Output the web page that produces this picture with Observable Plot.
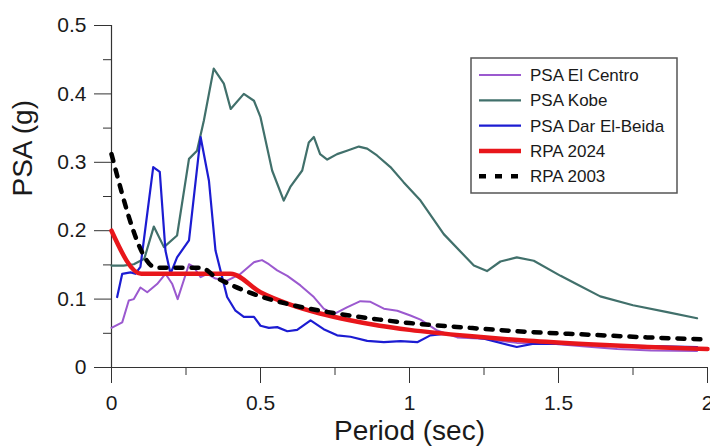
<!DOCTYPE html>
<html>
<head>
<meta charset="utf-8">
<script src="https://cdn.jsdelivr.net/npm/d3@7"></script>
<script src="https://cdn.jsdelivr.net/npm/@observablehq/plot@0.6"></script>
<style>
  html, body { margin: 0; padding: 0; background: #fff; }
  #chart { width: 710px; height: 448px; overflow: hidden; }
</style>
</head>
<body>
<div id="chart"></div>
<script>
// ---- Data ----
const elCentroT = [0, 0.036, 0.058, 0.075, 0.097, 0.12, 0.153, 0.181, 0.204, 0.222, 0.26, 0.276, 0.299, 0.321, 0.349, 0.388, 0.433, 0.478, 0.505, 0.528, 0.556, 0.59, 0.634, 0.679, 0.712, 0.746, 0.79, 0.835, 0.869, 0.914, 0.959, 1.003, 1.037, 1.093, 1.16, 1.25, 1.36, 1.473, 1.58, 1.697, 1.81, 1.965];
const elCentroV = [0.058, 0.066, 0.098, 0.100, 0.117, 0.110, 0.122, 0.137, 0.122, 0.100, 0.151, 0.147, 0.132, 0.137, 0.130, 0.127, 0.137, 0.154, 0.157, 0.151, 0.142, 0.134, 0.120, 0.103, 0.086, 0.078, 0.088, 0.097, 0.096, 0.086, 0.083, 0.076, 0.070, 0.054, 0.044, 0.042, 0.036, 0.035, 0.031, 0.027, 0.025, 0.024];

const kobeT = [0, 0.04, 0.075, 0.11, 0.142, 0.176, 0.22, 0.26, 0.287, 0.31, 0.343, 0.377, 0.40, 0.444, 0.478, 0.50, 0.539, 0.578, 0.60, 0.64, 0.662, 0.679, 0.70, 0.724, 0.757, 0.79, 0.83, 0.858, 0.891, 0.936, 0.98, 1.037, 1.115, 1.216, 1.26, 1.305, 1.36, 1.417, 1.507, 1.56, 1.64, 1.75, 1.865, 1.965];
const kobeV = [0.149, 0.149, 0.151, 0.159, 0.206, 0.176, 0.193, 0.305, 0.317, 0.361, 0.437, 0.415, 0.378, 0.400, 0.390, 0.366, 0.288, 0.244, 0.264, 0.288, 0.329, 0.337, 0.312, 0.304, 0.312, 0.317, 0.323, 0.320, 0.310, 0.293, 0.271, 0.244, 0.195, 0.149, 0.141, 0.155, 0.161, 0.156, 0.134, 0.122, 0.104, 0.091, 0.081, 0.072];

const darT = [0.019, 0.036, 0.064, 0.08, 0.097, 0.14, 0.162, 0.181, 0.198, 0.22, 0.26, 0.299, 0.327, 0.349, 0.388, 0.416, 0.444, 0.478, 0.50, 0.528, 0.556, 0.59, 0.623, 0.668, 0.712, 0.757, 0.802, 0.858, 0.914, 0.97, 1.026, 1.07, 1.115, 1.25, 1.36, 1.417, 1.55, 1.7, 1.85, 1.965];
const darV = [0.103, 0.137, 0.139, 0.137, 0.147, 0.293, 0.286, 0.171, 0.137, 0.161, 0.186, 0.337, 0.273, 0.171, 0.103, 0.083, 0.074, 0.074, 0.061, 0.058, 0.059, 0.053, 0.055, 0.069, 0.056, 0.047, 0.045, 0.039, 0.037, 0.0385, 0.037, 0.047, 0.049, 0.042, 0.030, 0.035, 0.034, 0.032, 0.031, 0.030];

const rpa2024T = [0, 0.1, 0.4, 0.5, 0.6, 0.7, 0.8, 0.9, 1.0, 1.2, 1.4, 1.6, 1.8, 2.0];
const rpa2024V = [0.200, 0.137, 0.137, 0.110, 0.092, 0.079, 0.069, 0.061, 0.055, 0.046, 0.039, 0.034, 0.030, 0.027];

const rpa2003T = [0, 0.15, 0.3, 0.35, 0.4, 0.5, 0.6, 0.7, 0.8, 0.9, 1.0, 1.2, 1.4, 1.6, 1.8, 2.0];
const rpa2003V = [0.312, 0.146, 0.146, 0.132, 0.121, 0.104, 0.092, 0.083, 0.076, 0.070, 0.065, 0.058, 0.052, 0.048, 0.044, 0.041];

const seriesNames = ["PSA El Centro", "PSA Kobe", "PSA Dar El-Beida", "RPA 2024", "RPA 2003"];
const seriesColors = ["#9b59cf", "#41706b", "#1c1cd2", "#e8161b", "#000000"];

const xMajor = [0, 0.5, 1, 1.5, 2];
const xMinor = [0.25, 0.75, 1.25, 1.75];
const yMajor = [0, 0.1, 0.2, 0.3, 0.4, 0.5];
const yMinor = [0.05, 0.15, 0.25, 0.35, 0.45];

// ---- Build tables ----
const toRows = (T, V) => T.map((t, i) => ({t, v: V[i]}));
const elCentro = toRows(elCentroT, elCentroV);
const kobe = toRows(kobeT, kobeV);
const dar = toRows(darT, darV);
const rpa2024 = toRows(rpa2024T, rpa2024V);
const rpa2003 = toRows(rpa2003T, rpa2003V);

const font = "'Liberation Sans', Arial, sans-serif";
const axisColor = "#333";

const svg = Plot.plot({
  width: 710,
  height: 448,
  marginLeft: 111,
  marginRight: 3,
  marginTop: 25,
  marginBottom: 81,
  style: {fontFamily: font, fontSize: "21px", color: "#1a1a1a", background: "#fff", overflow: "hidden"},
  x: {domain: [0, 2], axis: null},
  y: {domain: [0, 0.5], axis: null},
  marks: [
    // axes
    Plot.axisX({ticks: xMajor, tickSize: 16, tickPadding: 12, tickFormat: d => String(d), fontSize: 21, stroke: axisColor, fill: "#1a1a1a", label: null}),
    Plot.axisX({ticks: xMinor, tickSize: 8, tickFormat: () => "", stroke: axisColor, label: null}),
    Plot.axisY({ticks: yMajor, tickSize: 17, tickPadding: 8, tickFormat: d => String(d), fontSize: 21, stroke: axisColor, fill: "#1a1a1a", label: null}),
    Plot.axisY({ticks: yMinor, tickSize: 8, tickFormat: () => "", stroke: axisColor, label: null}),
    Plot.ruleX([0], {y1: 0, y2: 0.5, stroke: axisColor, strokeWidth: 1.2}),
    Plot.ruleY([0], {x1: 0, x2: 2, stroke: axisColor, strokeWidth: 1.2}),
    // series
    Plot.line(elCentro, {x: "t", y: "v", stroke: seriesColors[0], strokeWidth: 2}),
    Plot.line(kobe, {x: "t", y: "v", stroke: seriesColors[1], strokeWidth: 2.2}),
    Plot.line(dar, {x: "t", y: "v", stroke: seriesColors[2], strokeWidth: 2.2}),
    Plot.line(rpa2024, {x: "t", y: "v", stroke: seriesColors[3], strokeWidth: 4.5, curve: "monotone-x"}),
    Plot.line(rpa2003, {x: "t", y: "v", stroke: seriesColors[4], strokeWidth: 4.5, strokeDasharray: "7,9", curve: "monotone-x"}),
    // axis titles
    Plot.text(["PSA (g)"], {frameAnchor: "left", dx: -88, rotate: -90, fontSize: 28, fill: "#1a1a1a"}),
    Plot.text(["Period (sec)"], {frameAnchor: "bottom", dy: 72, fontSize: 28, fill: "#1a1a1a"})
  ]
});

// ---- Legend (drawn inside the SVG) ----
const g = d3.select(svg).append("g")
  .attr("font-family", font).attr("font-size", 17).attr("text-anchor", "start");
g.append("rect").attr("x", 471).attr("y", 58).attr("width", 206).attr("height", 135)
  .attr("fill", "#fff").attr("stroke", "#555").attr("stroke-width", 1.5);
const widths = [2, 2.2, 2.2, 4.5, 4.5];
seriesNames.forEach((name, i) => {
  const yy = 75 + i * 25.3;
  g.append("line").attr("x1", 479).attr("x2", 521).attr("y1", yy).attr("y2", yy)
    .attr("stroke", seriesColors[i]).attr("stroke-width", widths[i])
    .attr("stroke-dasharray", i === 4 ? "7,9" : null);
  g.append("text").attr("x", 530).attr("y", yy).attr("dy", "0.35em")
    .attr("text-anchor", "start").attr("fill", "#1a1a1a").text(name);
});

document.getElementById("chart").appendChild(svg);
</script>
</body>
</html>
